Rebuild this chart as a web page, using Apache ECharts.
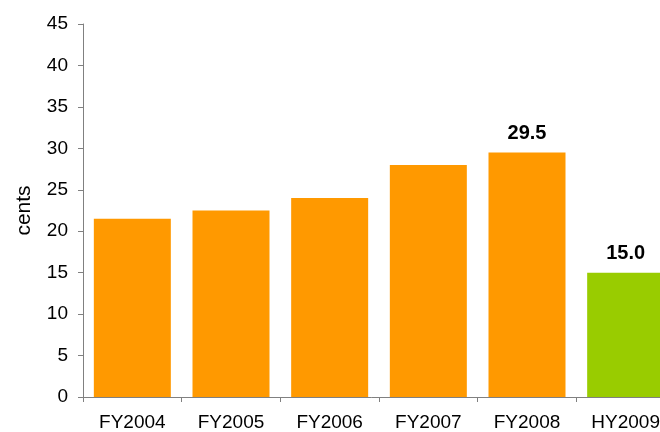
<!DOCTYPE html>
<html>
<head>
<meta charset="utf-8">
<script src="https://cdn.jsdelivr.net/npm/echarts@6/dist/echarts.min.js"></script>
<style>
html, body { margin: 0; padding: 0; background: #fff; }
#main { width: 660px; height: 432px; }
</style>
</head>
<body>
<div id="main"></div>
<script>
var categories = ['FY2004', 'FY2005', 'FY2006', 'FY2007', 'FY2008', 'HY2009'];
var values = [21.5, 22.5, 24.0, 28.0, 29.5, 15.0];
var barColors = ['#FF9900', '#FF9900', '#FF9900', '#FF9900', '#FF9900', '#99CC00'];
var showLabel = [false, false, false, false, true, true];

var myChart = echarts.init(document.getElementById('main'));

var seriesData = values.map(function (v, i) {
    return {
        value: v,
        itemStyle: { color: barColors[i] },
        label: { show: showLabel[i] }
    };
});

var option = {
    animation: false,
    grid: {
        left: 83,
        right: -15,
        top: 24,
        bottom: 35,
        containLabel: false,
        outerBoundsMode: 'none'
    },
    xAxis: {
        type: 'category',
        data: categories,
        axisLine: {
            lineStyle: { color: '#808080', width: 1 }
        },
        axisTick: {
            show: true,
            length: 5,
            lineStyle: { color: '#808080' }
        },
        axisLabel: {
            color: '#000',
            fontFamily: 'Liberation Sans',
            fontSize: 19,
            margin: 16
        }
    },
    yAxis: {
        type: 'value',
        min: 0,
        max: 45,
        interval: 5,
        name: 'cents',
        nameLocation: 'middle',
        nameGap: 48,
        nameTextStyle: {
            color: '#000',
            fontFamily: 'Liberation Sans',
            fontSize: 21
        },
        axisLine: {
            show: true,
            lineStyle: { color: '#808080', width: 1 }
        },
        axisTick: {
            show: true,
            length: 5,
            lineStyle: { color: '#808080' }
        },
        axisLabel: {
            color: '#000',
            fontFamily: 'Liberation Sans',
            fontSize: 19,
            margin: 15
        },
        splitLine: { show: false }
    },
    series: [
        {
            type: 'bar',
            barWidth: 77,
            label: {
                position: 'top',
                distance: 9,
                color: '#000',
                fontFamily: 'Liberation Sans',
                fontWeight: 'bold',
                fontSize: 20,
                formatter: function (p) { return p.value.toFixed(1); }
            },
            data: seriesData
        }
    ]
};
myChart.setOption(option);
</script>
</body>
</html>
